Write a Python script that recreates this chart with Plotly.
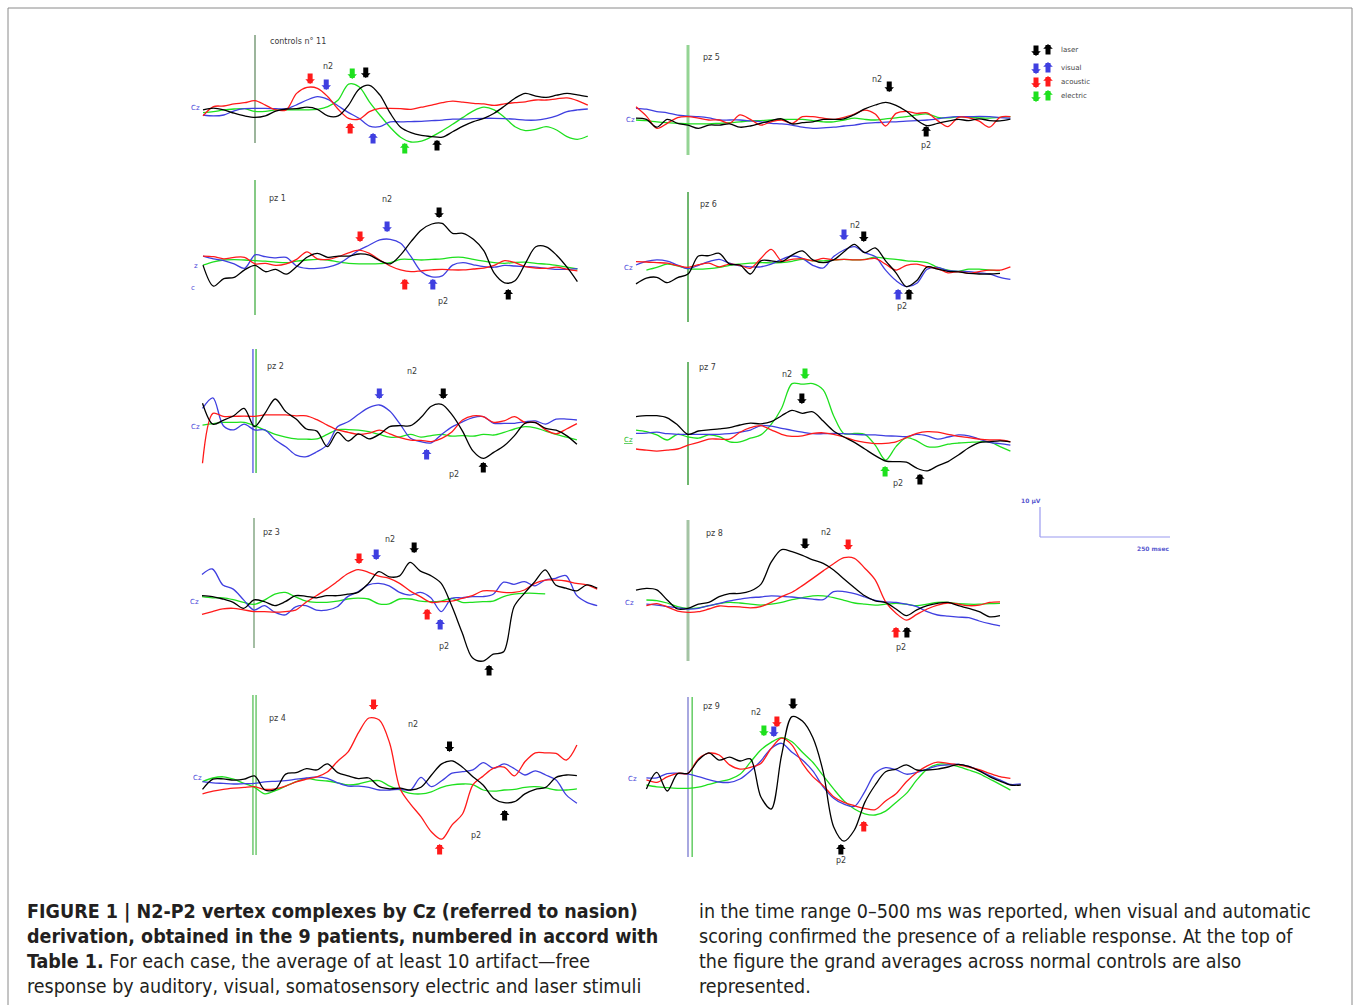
import plotly.graph_objects as go

# ---------------------------------------------------------------------------
# Figure geometry (pixels) and recording scales
# ---------------------------------------------------------------------------
W, H = 1355, 1005
PX_PER_MS = 0.52      # horizontal scale of every sweep
PX_PER_UV = 3.0       # vertical scale of every sweep (negative up)

# sample times of the averaged sweeps, ms from stimulus onset
T = list(range(-100, 661, 20))

# stimulus modalities
MODALITIES = ["electric", "visual", "acoustic", "laser"]
COLORS = {"laser": "#000000", "visual": "#3f3fe0", "acoustic": "#ff1a1a", "electric": "#1ee01e"}
LEGEND_LABELS = ["laser", "visual", "acoustic", "electric"]

# ---------------------------------------------------------------------------
# Grand averages of normal controls (µV, negative up)
# ---------------------------------------------------------------------------
CTRL_ACOUSTIC = [2.3, -0.8, -1.0, -1.7, -2.1, -2.8, -1.3, 0.3, 0.3, -5.2, -7.2, -6.9, -4.1, 0.1, 3.1, 3.4, 0.9,
                 -0.2, -0.2, -0.1, 0.1, -0.6, -1.3, -2.1, -2.6, -2.3, -1.9, -1.7, -1.2, -1.7, -2.1, -2.4, -3.0,
                 -3.0, -3.4, -3.7, -2.8, -1.3]
CTRL_VISUAL = [2.0, 2.3, 2.0, 0.6, -0.1, -0.2, -0.2, -0.1, -0.1, -1.4, -3.0, -4.1, -3.2, -1.0, 1.2, 3.1, 5.7, 5.9,
               4.3, 4.3, 4.2, 4.1, 3.9, 3.7, 3.4, 3.4, 3.2, 3.1, 3.1, 3.2, 3.4, 3.7, 3.7, 3.2, 2.3, 0.9, 0.3, 0.0]
CTRL_ELECTRIC = [1.2, 0.9, 0.3, 0.0, -0.1, 0.8, 0.8, 0.3, 0.3, 0.3, 0.3, 0.1, -0.8, -3.0, -8.3, -7.4, -2.4, 2.0,
                 6.1, 9.4, 11.0, 10.7, 9.2, 7.3, 5.1, 2.8, 0.6, -0.6, 0.3, 2.8, 5.9, 7.2, 6.8, 5.9, 7.0, 9.2, 10.1,
                 9.0]
CTRL_LASER = [0.3, -0.3, 0.3, 1.4, 2.3, 2.8, 2.3, 0.7, 0.0, -0.1, -0.6, 0.1, 2.3, 2.3, -1.3, -6.6, -7.9, -4.7, 1.4,
              6.1, 7.9, 8.8, 9.2, 9.4, 7.6, 5.7, 4.2, 3.1, 1.4, -1.0, -3.6, -5.2, -4.3, -3.9, -4.6, -5.2, -4.7, -4.1]

# ---------------------------------------------------------------------------
# Patients
# ---------------------------------------------------------------------------
PZ1_LASER = [-0.3, 6.7, 4.2, 3.8, 1.3, -0.2, 1.9, 1.1, 2.7, 0.2, -2.9, -4.2, -2.9, -3.3, -3.3, -4.0, -3.6, -1.8,
             -0.7, -3.7, -8.1, -12.0, -14.0, -14.2, -10.9, -10.9, -8.9, -5.1, 2.4, 5.6, 4.9, -0.9, -6.4, -6.4,
             -3.6, 0.4, 5.2]
PZ1_ACOUSTIC = [-3.3, -3.1, -2.4, -2.9, -2.9, -0.7, -0.9, -0.2, -0.7, -2.2, -4.7, -2.4, -2.2, -3.1, -4.4, -5.3,
                -4.2, -2.0, 0.0, 1.3, 1.9, 1.6, 1.3, 1.1, 1.3, 1.3, 1.0, 0.7, -0.2, -1.8, -1.1, 0.2, 0.7, 0.8, 0.4,
                1.1, 1.6]
PZ1_VISUAL = [-3.3, -2.4, -1.8, -0.7, 0.8, -3.7, -3.1, -2.7, -2.9, 0.0, 0.8, 0.8, 0.4, -0.7, -2.9, -5.3, -7.0,
              -8.7, -8.9, -7.6, -3.1, 1.9, 3.6, 3.3, -0.3, -1.1, -0.4, 0.2, 0.4, -0.2, 0.0, 0.2, 0.4, 0.8, 1.1, 1.1,
              0.9]
PZ1_ELECTRIC = [-0.3, -1.4, -2.0, -2.1, -2.0, -1.8, -1.6, -1.3, -1.1, -1.6, -2.0, -2.2, -2.0, -1.4, -0.9, -0.7,
                -0.7, -0.8, -1.1, -2.2, -2.2, -2.0, -2.2, -2.4, -2.9, -2.9, -2.2, -1.6, -1.1, -0.9, -1.2, -1.3,
                -0.9, -0.6, -0.2, 0.4, 1.0]

PZ2_LASER = [-7.6, -0.6, -1.9, -3.4, -5.9, 0.2, -4.2, -9.0, -4.8, -2.3, 1.0, 1.7, 6.9, 2.1, 5.0, 2.6, 4.3, 2.8,
             0.2, -0.1, -0.1, -2.8, -6.6, -7.2, -3.7, 1.7, 8.3, 10.8, 8.8, 6.6, 3.2, -0.9, -1.1, 0.8, 1.4, 3.2, 6.1]
PZ2_VISUAL = [-5.9, -9.4, -0.1, 1.3, -0.6, 1.3, 1.3, 4.7, 6.9, 9.7, 10.2, 8.6, 6.3, 0.2, -1.4, -3.9, -6.1, -7.0,
              -5.0, -0.6, 4.1, 5.2, 5.6, 2.8, 0.3, -1.4, -2.8, -3.1, -0.9, -0.9, -0.9, -1.4, -1.7, -0.6, -2.3, -2.3,
              -2.0]
PZ2_ACOUSTIC = [12.4, -4.2, -3.2, -3.2, -3.3, -3.2, -3.7, -3.7, -3.7, -3.4, -3.4, -2.1, -0.3, 1.3, 2.1, 2.8, 2.4,
                1.4, 2.6, 3.9, 4.7, 4.8, 5.2, 4.1, 1.9, -2.0, -3.4, -3.1, -1.2, -1.7, -3.1, -1.2, -1.2, 1.3, 2.6,
                1.0, -0.8]
PZ2_ELECTRIC = [-0.3, -0.8, -1.2, -1.2, -1.2, -0.1, 1.4, 2.8, 3.7, 4.3, 4.4, 4.3, 2.8, 1.2, 1.2, 1.4, 1.9, 2.8,
                3.7, 3.6, 2.8, 3.7, 3.2, 2.8, 3.4, 3.2, 3.4, 2.8, 3.0, 2.1, 1.0, 0.2, 0.6, 1.7, 2.8, 3.7, 4.6]

PZ3_LASER = [-2.1, -1.8, -1.0, 0.1, 2.1, -0.7, -0.1, 1.2, -0.1, -2.1, -1.9, -1.4, -2.1, -2.1, -2.6, -3.2, -6.2,
             -10.1, -8.4, -8.7, -13.2, -10.3, -8.8, -6.2, 1.2, 10.1, 18.6, 19.7, 17.4, 16.6, 1.6, -2.9, -6.8,
             -10.7, -5.7, -4.6, -3.7, -5.7, -4.6]
PZ3_ACOUSTIC = [4.1, 3.2, 2.3, 2.1, 2.6, 3.2, 3.2, 3.4, 3.2, 2.7, 0.1, -2.1, -4.3, -6.8, -9.4, -10.8, -9.9, -8.6,
                -7.9, -6.2, -3.7, -1.8, 0.1, -0.1, -0.3, -1.2, -2.1, -3.7, -3.7, -3.2, -3.2, -4.0, -6.2, -7.3,
                -7.3, -7.0, -6.2, -5.7, -4.3]
PZ3_VISUAL = [-9.2, -11.0, -5.7, -4.3, -0.7, 2.7, 1.2, 3.4, 4.3, 1.6, 1.2, 2.7, 2.7, 1.6, -1.8, -3.4, -5.7, -6.2,
              -5.4, -3.2, -2.3, -3.2, -1.4, 3.2, -1.2, -1.4, -1.8, -1.8, -2.6, -6.6, -5.9, -6.8, -5.4, -7.3, -7.9,
              -8.8, -2.3, 0.1, 1.2]
PZ3_ELECTRIC = [-1.8, -1.4, -1.4, -0.8, 0.1, 0.8, -0.6, -2.6, -3.2, -1.7, -0.3, 0.1, 0.1, -0.3, -1.0, -1.3, -1.0,
                0.6, 0.6, -1.0, -1.0, -0.3, -0.1, -0.3, -1.2, 0.1, 0.1, -0.1, -0.3, -1.8, -2.6, -2.9, -2.9, -2.7]

PZ4_ACOUSTIC = [5.3, 4.4, 3.8, 3.4, 3.1, 2.9, 3.8, 3.6, 2.7, 1.3, 0.4, -0.4, -2.0, -5.6, -8.7, -15.1, -20.0, -19.3,
                -11.6, 3.6, 8.7, 12.9, 17.9, 20.4, 15.6, 12.0, 2.3, -0.7, -3.3, -3.6, -0.7, -5.4, -8.4, -8.4, -8.2,
                -6.0, -11.0]
PZ4_LASER = [3.8, 0.4, 0.3, 0.7, 0.4, -0.7, 4.0, 3.8, -1.3, -1.8, -3.1, -2.7, -4.7, -1.8, -0.7, 0.2, 0.0, 2.9,
             3.6, 3.4, 4.0, 3.1, -0.9, -4.7, -5.7, -3.6, -0.4, 2.4, 6.8, 8.2, 7.9, 5.3, 3.8, 3.1, -0.2, -1.0, -0.8]
PZ4_VISUAL = [1.2, 1.6, 1.8, 2.0, 1.9, 1.8, 1.3, 1.1, 0.9, 0.4, 0.0, -0.4, 0.1, 1.6, 2.7, 2.7, 3.1, 4.0, 4.0, 3.8,
              4.0, -0.2, 2.9, 0.9, -1.6, -2.1, -2.7, -5.1, -3.2, -4.7, -3.1, -1.0, -2.4, -1.0, 0.7, 5.7, 8.4]
PZ4_ELECTRIC = [1.2, 0.0, -0.4, 0.4, 1.8, 3.1, 5.3, 4.2, 2.7, 1.2, 0.1, 0.7, 1.0, 1.6, 2.3, 2.0, 1.1, 0.9, 2.7,
                4.0, 5.1, 5.3, 4.6, 3.1, 2.3, 2.0, 2.2, 4.0, 4.4, 4.0, 3.8, 3.1, 2.9, 3.3, 4.0, 4.0, 3.6]

PZ5_LASER = [-0.6, -0.2, 2.4, -0.2, 1.1, 1.7, 2.8, 1.7, 1.7, 1.3, 2.4, 2.0, 1.1, 0.2, -0.4, 1.3, 0.9, 0.6, -0.2,
             -0.2, -0.4, -1.8, -3.7, -5.0, -5.9, -4.9, -2.9, 0.0, 1.9, 1.1, 0.4, -0.2, 0.2, -0.4, 0.2, 0.3, -0.3]
PZ5_ACOUSTIC = [-4.4, -1.3, 2.8, 1.1, -0.8, -1.1, -0.6, 0.0, 0.0, 1.1, -1.7, -0.2, 1.7, 0.6, 0.0, 1.1, -1.1, -1.1,
                -0.6, -0.2, -0.9, -2.0, -3.3, -2.0, 2.0, -2.2, -2.9, -2.2, -2.4, 0.2, 2.2, -0.9, -0.7, 0.4, 2.4,
                -0.9, -1.1]
PZ5_VISUAL = [-3.9, -3.6, -2.8, -2.4, -1.6, -1.3, -1.1, -0.7, 0.0, 0.0, 0.0, 0.3, 0.6, 1.1, 1.3, 1.7, 2.4, 2.8,
              2.6, 2.4, 2.0, 1.7, 1.1, 0.9, 0.7, 0.6, 0.4, 0.2, 0.0, -0.4, -0.9, -1.1, -1.1, -1.2, -1.1, -0.8, -0.6]
PZ5_ELECTRIC = [0.0, 0.2, 0.6, 0.9, 1.1, 1.3, 1.3, 1.3, 1.1, 0.9, 0.6, 0.3, 0.2, 0.0, -0.2, -0.2, -0.2, 0.2, 0.6,
                0.6, 0.0, -0.6, -0.2, 0.0, -0.4, -0.7, -1.1, -1.7, -2.0, -0.9, -0.7, -1.1, -0.9, -0.7, -0.6, -0.9,
                -1.1]

PZ6_LASER = [5.3, 3.4, 3.1, 4.9, 3.2, 2.0, -4.0, -4.1, -4.9, -1.3, -1.0, 2.0, -2.4, -2.4, -2.1, -4.3, -5.7, -2.7,
             -1.8, -2.7, -5.4, -7.9, -5.1, -6.7, -2.4, 1.6, 6.2, 4.2, -0.4, 0.4, 1.1, 1.3, 1.8, 2.0, 2.0, 1.8]
PZ6_VISUAL = [-1.0, -2.2, -2.7, -2.3, -1.0, 0.2, -0.9, -2.1, -2.9, -1.6, -0.7, -0.4, -0.4, -1.3, -2.9, -4.0, -3.2,
              -0.9, 0.0, -3.8, -6.0, -7.1, -5.1, -3.8, 0.7, 4.2, 6.2, 5.1, 0.4, -0.2, 0.9, 1.1, 1.2, 1.6, 2.0, 3.1,
              3.8]
PZ6_ACOUSTIC = [-2.1, -2.0, -1.8, -1.6, -0.8, -0.2, -1.1, -1.6, -0.4, -1.3, -0.9, 0.1, -3.2, -6.2, -2.4, -2.9,
                -3.1, -2.4, -3.2, -2.7, -2.9, -2.7, -2.8, -3.2, -1.3, 0.7, -0.9, -1.3, -0.4, 0.2, 1.6, 1.2, 1.8,
                1.2, 0.7, 0.7, -0.4]
PZ6_ELECTRIC = [None, 0.7, -0.2, -1.3, -0.7, 0.2, 0.4, 0.2, -0.2, -0.9, -1.3, -1.6, -1.8, -1.7, -1.8, -2.2, -2.9,
                -2.4, -2.4, -2.7, -2.9, -2.7, -2.9, -3.6, -3.2, -2.9, -2.4, -2.2, -1.8, -0.2, 0.7, 1.1, 0.4, 0.4,
                0.7, 0.9]

PZ7_LASER = [-7.8, -8.1, -8.1, -7.4, -5.0, -1.9, -3.0, -3.4, -3.7, -4.1, -5.0, -5.6, -5.4, -6.1, -8.1, -9.9, -8.9,
             -9.4, -6.3, -3.0, -1.0, 0.8, 3.0, 5.2, 7.0, 7.2, 7.4, 9.4, 10.3, 8.6, 7.2, 5.0, 2.6, 0.9, 0.6, 0.3, 0.6]
PZ7_ELECTRIC = [-3.3, -2.8, -1.7, 0.0, -1.9, -1.0, -0.6, -1.7, -1.1, 0.6, 0.6, -0.6, -1.7, -5.2, -10.6, -18.8,
                -18.6, -18.8, -16.7, -8.1, -2.1, -2.2, -1.9, 1.7, 6.7, 2.2, -0.8, 0.3, 2.2, 2.3, 1.4, 1.0, 0.8, 0.6,
                0.6, 2.2, 3.7]
PZ7_ACOUSTIC = [3.0, 3.4, 3.7, 3.4, 3.0, 1.7, 0.8, -0.3, -0.3, -0.3, -2.6, -4.1, -4.8, -3.4, -1.9, -1.2, -1.4,
                -2.2, -2.4, -1.9, -1.0, 0.1, 0.8, 1.2, 1.1, 0.6, -0.8, -2.2, -2.8, -2.6, -1.9, -1.2, -0.8, -0.3, 0.0,
                0.0, 0.6]
PZ7_VISUAL = [-2.2, -2.3, -2.6, -2.1, -1.9, -1.9, -1.9, -1.9, -1.9, -2.1, -2.6, -3.3, -4.8, -4.6, -3.9, -3.2, -2.6,
              -2.1, -2.1, -2.2, -2.1, -1.9, -1.7, -1.7, -1.4, -1.3, -1.1, -1.9, -1.4, -0.3, -1.0, -1.7, -1.4, -0.3,
              0.8, 1.2, 1.7]

PZ8_LASER = [-4.3, -4.9, -4.4, -1.0, 2.0, 1.8, 0.4, -0.2, -2.1, -3.1, -3.2, -4.0, -6.2, -13.6, -17.8, -17.1, -15.9,
             -14.4, -13.2, -11.0, -8.0, -5.1, -2.4, -0.7, -0.1, 2.0, 4.2, 2.3, 0.9, 0.1, -0.2, 0.9, 1.8, 2.9, 4.6,
             4.2]
PZ8_ACOUSTIC = [None, 0.9, 0.2, 1.3, 2.7, 3.1, 2.9, 2.0, 1.0, 1.2, 1.3, 1.6, 1.2, -0.2, -2.1, -3.6, -5.8, -8.2,
                -10.7, -13.1, -15.1, -14.9, -11.6, -7.7, -0.4, 3.4, 5.7, 3.8, 2.0, 0.7, 0.0, 0.4, 0.9, 0.7, -0.2,
                -0.4]
PZ8_VISUAL = [None, 0.4, 0.7, 1.2, 1.6, 2.0, 1.8, 0.9, 0.1, -0.7, -1.3, -1.8, -2.0, -2.4, -2.2, -2.0, -1.6, -1.3,
              -1.1, -3.8, -3.8, -3.1, -2.0, -0.9, -0.4, -0.2, 0.4, 1.2, 2.9, 4.0, 4.4, 4.7, 4.9, 6.0, 6.9, 7.6]
PZ8_ELECTRIC = [None, -1.0, -0.8, 0.0, 1.2, 1.8, 1.6, 0.9, 0.2, -0.2, 0.0, 0.4, 0.7, 0.4, -0.2, -1.1, -1.8, -2.4,
                -2.4, -1.8, -0.9, 0.0, 0.4, 0.7, 0.4, 0.1, 0.4, 0.9, 0.4, -0.2, -0.2, 0.2, 0.4, 0.4, 0.2, 0.1]

PZ9_LASER = [None, 3.3, -2.2, 4.0, -1.8, -1.9, -6.3, -8.7, -6.3, -7.3, -6.0, -6.7, 5.9, 10.0, -8.0, -20.8, -19.3,
             -13.8, -2.4, 15.9, 20.7, 17.0, 7.8, 2.0, -2.4, -3.3, -4.7, -3.0, -3.0, -3.3, -4.0, -4.9, -4.2, -2.7,
             -0.8, 0.7, 2.0, 2.0]
PZ9_ACOUSTIC = [None, 0.3, 1.1, -0.7, -1.9, -1.9, -6.7, -8.6, -8.0, -4.7, -3.3, -3.9, -5.2, -10.2, -13.6, -11.3,
                -5.2, -0.8, 2.2, 5.9, 7.8, 8.9, 9.8, 10.2, 7.3, 4.9, 0.9, -2.2, -4.4, -5.6, -5.2, -4.7, -4.0, -3.1,
                -1.9, -0.8, -0.2]
PZ9_VISUAL = [None, -0.4, -0.4, -1.8, -1.9, -1.6, -0.8, 0.2, 1.0, 1.1, 0.0, -2.7, -6.0, -10.2, -11.9, -8.9, -6.3,
              -2.7, 2.6, 6.4, 8.4, 9.1, 4.2, -1.9, -3.8, -3.1, -1.6, -2.2, -3.3, -4.4, -4.7, -4.9, -4.2, -2.9, -1.1,
              0.3, 1.8, 1.6]
PZ9_ELECTRIC = [None, 2.0, 2.6, 2.9, 3.1, 3.1, 2.7, 1.8, 0.9, 0.1, -1.6, -5.6, -9.7, -12.2, -13.8, -12.4, -8.9,
                -5.6, -1.1, 3.3, 7.3, 10.0, 11.6, 12.0, 10.7, 7.8, 4.8, 0.3, -3.3, -4.9, -4.9, -4.1, -3.0, -1.8, 0.0,
                1.8, 3.7]

# Peak markers: (latency ms, amplitude µV at arrow tip, modality, direction)
CTRL_PEAKS = [(106, -8.3, "acoustic", "down"), (137, -6.3, "visual", "down"), (187, -10.0, "electric", "down"),
              (213, -10.3, "laser", "down"), (183, 4.7, "acoustic", "up"), (227, 8.0, "visual", "up"),
              (288, 11.3, "electric", "up"), (350, 10.3, "laser", "up")]
PZ1_PEAKS = [(202, -8.0, "acoustic", "down"), (254, -11.3, "visual", "down"), (354, -16.0, "laser", "down"),
             (288, 4.3, "acoustic", "up"), (342, 4.3, "visual", "up"), (487, 7.7, "laser", "up")]
PZ2_PEAKS = [(240, -9.0, "visual", "down"), (363, -9.0, "laser", "down"), (331, 7.7, "visual", "up"),
             (440, 12.0, "laser", "up")]
PZ3_PEAKS = [(202, -12.7, "acoustic", "down"), (235, -14.0, "visual", "down"), (308, -16.3, "laser", "down"),
             (333, 2.3, "acoustic", "up"), (358, 5.7, "visual", "up"), (452, 21.0, "laser", "up")]
PZ4_PEAKS = [(229, -22.7, "acoustic", "down"), (375, -8.7, "laser", "down"), (356, 22.0, "acoustic", "up"),
             (481, 10.7, "laser", "up")]
PZ5_PEAKS = [(387, -9.3, "laser", "down"), (458, 2.0, "laser", "up")]
PZ6_PEAKS = [(300, -9.3, "visual", "down"), (338, -8.7, "laser", "down"), (404, 7.0, "visual", "up"),
             (425, 7.0, "laser", "up")]
PZ7_PEAKS = [(225, -20.3, "electric", "down"), (219, -12.0, "laser", "down"), (379, 8.7, "electric", "up"),
             (446, 11.3, "laser", "up")]
PZ8_PEAKS = [(225, -18.0, "laser", "down"), (308, -17.7, "acoustic", "down"), (400, 8.0, "acoustic", "up"),
             (421, 8.0, "laser", "up")]
PZ9_PEAKS = [(202, -23.3, "laser", "down"), (171, -17.3, "acoustic", "down"), (165, -14.0, "visual", "down"),
             (146, -14.3, "electric", "down"), (294, 21.7, "laser", "up"), (338, 14.0, "acoustic", "up")]

CAPTION_LEFT = [
    "<b>FIGURE 1 | N2-P2 vertex complexes by Cz (referred to nasion)</b>",
    "<b>derivation, obtained in the 9 patients, numbered in accord with</b>",
    "<b>Table 1.</b> For each case, the average of at least 10 artifact—free",
    "response by auditory, visual, somatosensory electric and laser stimuli",
]
CAPTION_RIGHT = [
    "in the time range 0–500 ms was reported, when visual and automatic",
    "scoring confirmed the presence of a reliable response. At the top of",
    "the figure the grand averages across normal controls are also",
    "represented.",
]

# ---------------------------------------------------------------------------
# Panel layout: onset line x, Cz baseline y, label placement (pixels)
# ---------------------------------------------------------------------------
PANELS = [
    dict(title="controls n° 11", t0=255, base=109, onset=(35, 143), onset_lines=[(0, "#9cb59c", 2)],
         title_xy=(268, 41), n2=(328, 67), p2=None, cz=[("Cz", 195, 108, "#4646d8")],
         traces=dict(laser=CTRL_LASER, visual=CTRL_VISUAL, acoustic=CTRL_ACOUSTIC, electric=CTRL_ELECTRIC),
         peaks=CTRL_PEAKS),
    dict(title="pz 1", t0=255, base=266, onset=(180, 315), onset_lines=[(0, "#5cb85c", 1.5)],
         title_xy=(267, 198), n2=(387, 199), p2=(443, 302), cz=[("z", 196, 266, "#4646d8"), ("c", 193, 288, "#4646d8")],
         traces=dict(laser=PZ1_LASER, visual=PZ1_VISUAL, acoustic=PZ1_ACOUSTIC, electric=PZ1_ELECTRIC),
         peaks=PZ1_PEAKS),
    dict(title="pz 2", t0=254.5, base=426, onset=(349, 473), onset_lines=[(-3, "#6a6ae6", 1.5), (3, "#4cc44c", 1.5)],
         title_xy=(265, 367), n2=(412, 371), p2=(454, 475), cz=[("Cz", 195, 427, "#4646d8")],
         traces=dict(laser=PZ2_LASER, visual=PZ2_VISUAL, acoustic=PZ2_ACOUSTIC, electric=PZ2_ELECTRIC),
         peaks=PZ2_PEAKS),
    dict(title="pz 3", t0=254, base=602, onset=(518, 648), onset_lines=[(0, "#86a886", 1.5)],
         title_xy=(261, 532), n2=(390, 539), p2=(444, 646), cz=[("Cz", 194, 602, "#4646d8")],
         traces=dict(laser=PZ3_LASER, visual=PZ3_VISUAL, acoustic=PZ3_ACOUSTIC, electric=PZ3_ELECTRIC),
         peaks=PZ3_PEAKS),
    dict(title="pz 4", t0=254.5, base=778, onset=(695, 855), onset_lines=[(-3, "#58c058", 1.3), (3, "#58c058", 1.3)],
         title_xy=(267, 718), n2=(413, 724), p2=(476, 835), cz=[("Cz", 197, 778, "#4646d8")],
         traces=dict(laser=PZ4_LASER, visual=PZ4_VISUAL, acoustic=PZ4_ACOUSTIC, electric=PZ4_ELECTRIC),
         peaks=PZ4_PEAKS),
    dict(title="pz 5", t0=688, base=120, onset=(45, 155), onset_lines=[(0, "#94d494", 3)],
         title_xy=(701, 57), n2=(877, 80), p2=(926, 145), cz=[("Cz", 630, 120, "#4646d8")],
         traces=dict(laser=PZ5_LASER, visual=PZ5_VISUAL, acoustic=PZ5_ACOUSTIC, electric=PZ5_ELECTRIC),
         peaks=PZ5_PEAKS),
    dict(title="pz 6", t0=688, base=268, onset=(192, 322), onset_lines=[(0, "#3f9f3f", 1.5)],
         title_xy=(698, 204), n2=(855, 226), p2=(902, 306), cz=[("Cz", 628, 268, "#4646d8")],
         traces=dict(laser=PZ6_LASER, visual=PZ6_VISUAL, acoustic=PZ6_ACOUSTIC, electric=PZ6_ELECTRIC),
         peaks=PZ6_PEAKS),
    dict(title="pz 7", t0=688, base=440, onset=(362, 485), onset_lines=[(0, "#3f9f3f", 1.5)],
         title_xy=(697, 368), n2=(787, 374), p2=(898, 484), cz=[("<u>Cz</u>", 628, 440, "#22bb22")],
         traces=dict(laser=PZ7_LASER, visual=PZ7_VISUAL, acoustic=PZ7_ACOUSTIC, electric=PZ7_ELECTRIC),
         peaks=PZ7_PEAKS),
    dict(title="pz 8", t0=688, base=603, onset=(520, 661), onset_lines=[(0, "#a4c4a4", 3)],
         title_xy=(704, 533), n2=(826, 532), p2=(901, 647), cz=[("Cz", 629, 603, "#4646d8")],
         traces=dict(laser=PZ8_LASER, visual=PZ8_VISUAL, acoustic=PZ8_ACOUSTIC, electric=PZ8_ELECTRIC),
         peaks=PZ8_PEAKS),
    dict(title="pz 9", t0=688, base=779, onset=(697, 857), onset_lines=[(0, "#a8a8e0", 2), (8, "#4cc44c", 1.3)],
         title_xy=(701, 706), n2=(756, 712), p2=(841, 860), cz=[("Cz", 632, 779, "#4646d8")],
         traces=dict(laser=PZ9_LASER, visual=PZ9_VISUAL, acoustic=PZ9_ACOUSTIC, electric=PZ9_ELECTRIC),
         peaks=PZ9_PEAKS),
]

T_MIN, T_MAX = -200.0, 760.0      # visible time window of each sweep axis
HALF_PX = 96                       # half height of each sweep axis, pixels

# block-arrow look of the peak markers
ARROW = dict(showarrow=True, arrowhead=1, arrowsize=0.32, arrowwidth=5, standoff=0, text="")
ARROW_LEN = 12


def fx(px):
    return px / W


def fy(py):
    return 1 - py / H


fig = go.Figure()
shapes, annotations = [], []
LABEL_FONT = dict(family="DejaVu Sans", size=8, color="#3a3a3a")

for k, p in enumerate(PANELS, start=1):
    sfx = "" if k == 1 else str(k)
    x0 = p["t0"] + T_MIN * PX_PER_MS
    x1 = p["t0"] + T_MAX * PX_PER_MS
    uv_half = HALF_PX / PX_PER_UV
    fig.layout["xaxis" + sfx] = dict(domain=[fx(x0), fx(x1)], range=[T_MIN, T_MAX], visible=False,
                                     anchor="y" + sfx, fixedrange=True)
    fig.layout["yaxis" + sfx] = dict(domain=[fy(p["base"] + HALF_PX), fy(p["base"] - HALF_PX)],
                                     range=[uv_half, -uv_half], visible=False, anchor="x" + sfx,
                                     fixedrange=True)

    # stimulus onset marker(s)
    for dt, col, wid in p["onset_lines"]:
        shapes.append(dict(type="line", xref="x" + sfx, yref="paper", x0=dt, x1=dt,
                           y0=fy(p["onset"][1]), y1=fy(p["onset"][0]), layer="below",
                           line=dict(color=col, width=wid)))

    # averaged sweeps
    for mod in MODALITIES:
        vals = p["traces"][mod]
        fig.add_trace(go.Scatter(x=T[:len(vals)], y=vals, xaxis="x" + sfx, yaxis="y" + sfx,
                                 mode="lines", hoverinfo="skip", connectgaps=False,
                                 line=dict(color=COLORS[mod], width=1.3, shape="spline", smoothing=0.9)))

    # N2 / P2 peak arrows
    for lat, amp, mod, direction in p["peaks"]:
        annotations.append(dict(x=lat, y=amp, xref="x" + sfx, yref="y" + sfx, ax=0,
                                ay=-ARROW_LEN if direction == "down" else ARROW_LEN,
                                arrowcolor=COLORS[mod], **ARROW))

    # texts
    tx, ty = p["title_xy"]
    annotations.append(dict(x=fx(tx), y=fy(ty), xref="paper", yref="paper", text=p["title"], showarrow=False,
                            xanchor="left", yanchor="middle", font=LABEL_FONT))
    for lab, pos in (("n2", p["n2"]), ("p2", p["p2"])):
        if pos:
            annotations.append(dict(x=fx(pos[0]), y=fy(pos[1]), xref="paper", yref="paper", text=lab,
                                    showarrow=False, xanchor="center", yanchor="middle", font=LABEL_FONT))
    for txt, cx, cy, col in p["cz"]:
        annotations.append(dict(x=fx(cx), y=fy(cy), xref="paper", yref="paper", text=txt, showarrow=False,
                                xanchor="center", yanchor="middle",
                                font=dict(family="DejaVu Sans", size=7, color=col)))

# legend of stimulus modalities (top right)
for i, mod in enumerate(LEGEND_LABELS):
    ly = [50, 68, 82, 96][i]
    annotations.append(dict(x=fx(1036), y=fy(ly + 6), xref="paper", yref="paper", ax=0, ay=-ARROW_LEN,
                            arrowcolor=COLORS[mod], **ARROW))
    annotations.append(dict(x=fx(1048), y=fy(ly - 6), xref="paper", yref="paper", ax=0, ay=ARROW_LEN,
                            arrowcolor=COLORS[mod], **ARROW))
    annotations.append(dict(x=fx(1059), y=fy(ly), xref="paper", yref="paper", text=mod, showarrow=False,
                            xanchor="left", yanchor="middle",
                            font=dict(family="DejaVu Sans", size=7, color="#444444")))

# calibration bar: 10 µV / 250 ms
SB_X, SB_Y = 1040, 537
SB_UV, SB_MS = 10, 250
shapes.append(dict(type="line", xref="paper", yref="paper", x0=fx(SB_X), x1=fx(SB_X),
                   y0=fy(SB_Y), y1=fy(SB_Y - SB_UV * PX_PER_UV), line=dict(color="#9a9af0", width=1.2)))
shapes.append(dict(type="line", xref="paper", yref="paper", x0=fx(SB_X), x1=fx(SB_X + SB_MS * PX_PER_MS),
                   y0=fy(SB_Y), y1=fy(SB_Y), line=dict(color="#9a9af0", width=1.2)))
annotations.append(dict(x=fx(SB_X + 3), y=fy(SB_Y - SB_UV * PX_PER_UV - 6), xref="paper", yref="paper",
                        text=f"<b>{SB_UV} µV</b>", showarrow=False, xanchor="right", yanchor="middle",
                        font=dict(family="DejaVu Sans", size=6, color="#5a5ad0")))
annotations.append(dict(x=fx(SB_X + SB_MS * PX_PER_MS + 2), y=fy(SB_Y + 11), xref="paper", yref="paper",
                        text=f"<b>{SB_MS} msec</b>", showarrow=False, xanchor="right", yanchor="middle",
                        font=dict(family="DejaVu Sans", size=6, color="#5a5ad0")))

# page frame
shapes.append(dict(type="rect", xref="paper", yref="paper", x0=fx(8), x1=fx(1352), y0=fy(1012), y1=fy(8),
                   line=dict(color="#8a8a8a", width=1), layer="below"))

# caption
CAP_FONT = dict(family="Liberation Sans Narrow, DejaVu Sans Condensed, Arial Narrow, DejaVu Sans, sans-serif",
                size=19.5, color="#231f20")
for i, line in enumerate(CAPTION_LEFT):
    annotations.append(dict(x=fx(25), y=fy(911 + 25 * i), xref="paper", yref="paper", text=line,
                            showarrow=False, xanchor="left", yanchor="middle", font=CAP_FONT))
for i, line in enumerate(CAPTION_RIGHT):
    annotations.append(dict(x=fx(697), y=fy(911 + 25 * i), xref="paper", yref="paper", text=line,
                            showarrow=False, xanchor="left", yanchor="middle", font=CAP_FONT))

fig.update_layout(width=W, height=H, margin=dict(l=0, r=0, t=0, b=0), showlegend=False,
                  paper_bgcolor="white", plot_bgcolor="rgba(0,0,0,0)", shapes=shapes,
                  annotations=annotations)

fig.write_html("out.html")
